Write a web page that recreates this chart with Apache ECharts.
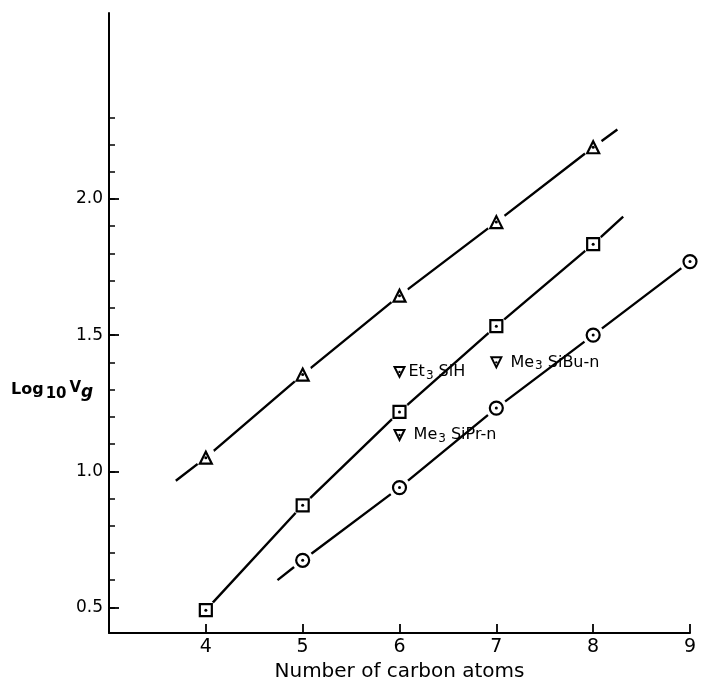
<!DOCTYPE html>
<html>
<head>
<meta charset="utf-8">
<script src="https://cdn.jsdelivr.net/npm/echarts@6/dist/echarts.min.js"></script>
<style>
html,body{margin:0;padding:0;background:#fff;}
#chart{width:704px;height:677px;}
</style>
</head>
<body>
<div id="chart"></div>
<script>
// ---- data ----
const carbonTicks = [4, 5, 6, 7, 8, 9];
const yLabelValues = [0.5, 1.0, 1.5, 2.0];
const yMinorTicks = [0.5, 0.6, 0.7, 0.8, 0.9, 1.0, 1.1, 1.2, 1.3, 1.4, 1.5, 1.6, 1.7, 1.8, 1.9, 2.0, 2.1, 2.2, 2.3];

const triX = [4, 5, 6, 7, 8];
const triY = [1.05, 1.355, 1.645, 1.915, 2.19];
const sqX = [4, 5, 6, 7, 8];
const sqY = [0.49, 0.875, 1.218, 1.533, 1.834];
const circX = [5, 6, 7, 8, 9];
const circY = [0.673, 0.94, 1.232, 1.50, 1.77];

// drawn lines (extended ends)
const triLine = [[3.69, 0.965], [4, 1.05], [5, 1.355], [6, 1.645], [7, 1.915], [8, 2.19], [8.25, 2.255]];
const sqLine = [[4, 0.49], [5, 0.875], [6, 1.218], [7, 1.533], [8, 1.834], [8.31, 1.935]];
const circLine = [[4.74, 0.60], [5, 0.673], [6, 0.94], [7, 1.232], [8, 1.50], [9, 1.77], [9.14, 1.81]];

const refX = [6, 7, 6];
const refY = [1.365, 1.40, 1.133];
const refNames = ['{t|Et}{s|3}{t| SiH}', '{t| Me}{s|3}{t| SiBu-n}', '{t| Me}{s|3}{t| SiPr-n}'];

const FONT = 'DejaVu Sans';
const INK = '#000';

function pts(xs, ys) { return xs.map((x, i) => [x, ys[i]]); }

function markerGroup(xs, ys, symbol, size, rotate) {
  const d = pts(xs, ys);
  return [
    { type: 'scatter', data: d, symbol: 'circle', symbolSize: size + 9, z: 3, silent: true,
      itemStyle: { color: '#fff', borderWidth: 0, opacity: 1 } },
    { type: 'scatter', data: d, symbol: symbol, symbolSize: size, symbolRotate: rotate || 0, z: 4, silent: true,
      itemStyle: { color: '#fff', borderColor: INK, borderWidth: 2.2, opacity: 1 } },
    { type: 'scatter', data: d, symbol: 'circle', symbolSize: 3, z: 5, silent: true,
      itemStyle: { color: INK, opacity: 1 } }
  ];
}

function drawLine(data) {
  return { type: 'line', data: data, showSymbol: false, clip: false, z: 2, silent: true,
    lineStyle: { color: INK, width: 2.4 } };
}

const series = [
  drawLine(triLine), drawLine(sqLine), drawLine(circLine),
  ...markerGroup(triX, triY, 'triangle', 12),
  ...markerGroup(sqX, sqY, 'rect', 12),
  ...markerGroup(circX, circY, 'circle', 13),
  { type: 'scatter', data: pts(refX, refY), symbol: 'triangle', symbolRotate: 180, symbolSize: 10, z: 4, silent: true,
    itemStyle: { color: '#fff', borderColor: INK, borderWidth: 2, opacity: 1 },
    label: { show: true, position: 'right', distance: 3, color: INK,
      formatter: p => refNames[p.dataIndex],
      rich: {
        t: { fontFamily: FONT, fontSize: 16, color: INK },
        s: { fontFamily: FONT, fontSize: 12, color: INK, padding: [8, 0, 0, 1] }
      } } },
  { type: 'scatter', data: pts(refX, refY), symbol: 'circle', symbolSize: 2.4, z: 5, silent: true,
    itemStyle: { color: INK, opacity: 1 } }
];

const chart = echarts.init(document.getElementById('chart'), null, { renderer: 'canvas' });
chart.setOption({
  backgroundColor: '#fff',
  animation: false,
  grid: { left: 109, right: 14, top: 13, bottom: 44, containLabel: false, outerBoundsMode: 'none' },
  xAxis: [{
    type: 'value', min: 3, max: 9,
    axisLine: { show: true, onZero: false, lineStyle: { color: INK, width: 2 } },
    axisTick: { show: true, inside: true, length: 9, customValues: carbonTicks, lineStyle: { color: INK, width: 1.8 } },
    axisLabel: { show: true, customValues: carbonTicks, margin: 5, fontFamily: FONT, fontSize: 19, color: INK },
    splitLine: { show: false },
    name: 'Number of carbon atoms', nameLocation: 'middle', nameGap: 21,
    nameTextStyle: { fontFamily: FONT, fontSize: 20, color: INK }
  }],
  yAxis: [{
    type: 'value', min: 0.406, max: 2.683,
    axisLine: { show: true, onZero: false, lineStyle: { color: INK, width: 2 } },
    axisTick: { show: true, inside: true, length: 6, customValues: yMinorTicks, lineStyle: { color: INK, width: 1.5 } },
    axisLabel: { show: true, customValues: yLabelValues, margin: 6, fontFamily: FONT, fontSize: 17, color: INK,
      formatter: v => v.toFixed(1) },
    splitLine: { show: false }
  }, {
    type: 'value', min: 0.406, max: 2.683, position: 'left',
    axisLine: { show: false },
    axisTick: { show: true, inside: true, length: 10, customValues: yLabelValues, lineStyle: { color: INK, width: 1.8 } },
    axisLabel: { show: false },
    splitLine: { show: false }
  }],
  graphic: [{
    type: 'text', left: 11, top: 381,
    style: {
      text: '{a|Log}{s|10}{v|V}{g|g}',
      rich: {
        a: { fontFamily: FONT, fontSize: 16, fontWeight: 'bold', fill: INK, color: INK },
        s: { fontFamily: FONT, fontSize: 15, fontWeight: 'bold', fill: INK, color: INK, padding: [8, 0, 0, 2] },
        v: { fontFamily: FONT, fontSize: 15, fontWeight: 'bold', fill: INK, color: INK, padding: [0, 0, 3, 3] },
        g: { fontFamily: FONT, fontSize: 17, fontStyle: 'italic', fontWeight: 'bold', fill: INK, color: INK, padding: [5, 0, 0, 0] }
      }
    }
  }],
  series: series
});
</script>
</body>
</html>
